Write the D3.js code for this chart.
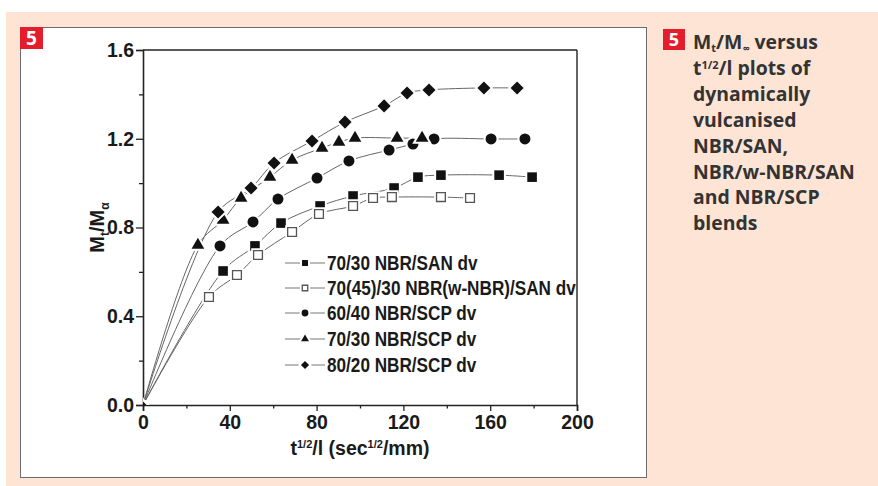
<!DOCTYPE html>
<html><head><meta charset="utf-8">
<script src="https://cdn.jsdelivr.net/npm/d3@7"></script>
<style>body{margin:0;background:#fff}svg{display:block}</style>
</head><body><svg id="c" width="878" height="486"></svg>
<script>
// ---------- data ----------
const seriesNames = ["70/30 NBR/SAN dv", "70(45)/30 NBR(w-NBR)/SAN dv", "60/40 NBR/SCP dv", "70/30 NBR/SCP dv", "80/20 NBR/SCP dv"];
const seriesSymbols = ["square", "openSquare", "circle", "triangle", "diamond"];
const xSAN7030 = [0, 36.9, 51.6, 63.6, 81.6, 96.8, 115.7, 126.7, 137.3, 164.1, 179.3];
const ySAN7030 = [0, 0.604, 0.717, 0.820, 0.897, 0.942, 0.978, 1.027, 1.036, 1.036, 1.027];
const xWNBR = [0, 30.4, 43.3, 53.0, 68.7, 81.1, 96.8, 106.0, 114.7, 137.3, 150.7];
const yWNBR = [0, 0.487, 0.586, 0.676, 0.780, 0.861, 0.897, 0.933, 0.937, 0.937, 0.933];
const xSCP6040 = [0, 35.5, 50.7, 62.2, 80.2, 94.9, 113.4, 124.4, 134.1, 160.4, 176.0];
const ySCP6040 = [0, 0.717, 0.825, 0.928, 1.023, 1.100, 1.149, 1.176, 1.199, 1.199, 1.199];
const xSCP7030 = [0, 25.3, 36.9, 45.2, 58.5, 68.7, 82.5, 90.3, 97.7, 117.1, 128.6];
const ySCP7030 = [0, 0.721, 0.834, 0.933, 1.027, 1.104, 1.158, 1.185, 1.203, 1.203, 1.203];
const xSCP8020 = [0, 34.6, 49.8, 60.4, 77.9, 93.1, 111.1, 121.7, 131.8, 157.1, 172.4];
const ySCP8020 = [0, 0.870, 0.978, 1.091, 1.190, 1.275, 1.348, 1.406, 1.420, 1.429, 1.429];
const xTicks = [0, 40, 80, 120, 160, 200];
const yTicks = [0.0, 0.4, 0.8, 1.2, 1.6];
const captionLines = ["versus", "t", "dynamically", "vulcanised", "NBR/SAN,", "NBR/w-NBR/SAN", "and NBR/SCP", "blends"];

const seriesX = [xSAN7030, xWNBR, xSCP6040, xSCP7030, xSCP8020];
const seriesY = [ySAN7030, yWNBR, ySCP6040, ySCP7030, ySCP8020];

// ---------- layout ----------
const svg = d3.select("#c");
const W = 878, H = 486;
svg.append("rect").attr("x", 6).attr("y", 12).attr("width", W - 6).attr("height", H - 12).attr("fill", "#fde4d4");
svg.append("rect").attr("x", 20.5).attr("y", 27.5).attr("width", 626).attr("height", 450).attr("fill", "#fff").attr("stroke", "#6d6d6d").attr("stroke-width", 1);
svg.append("rect").attr("x", 20).attr("y", 27).attr("width", 23).attr("height", 22).attr("fill", "#e41d2d");
svg.append("text").attr("x", 31.5).attr("y", 45).attr("text-anchor", "middle").attr("fill", "#fff")
  .attr("font-family", "'Open Sans', sans-serif").attr("font-weight", 700).attr("font-size", 19).text("5");

const x = d3.scaleLinear().domain([0, 200]).range([143, 577]);
const y = d3.scaleLinear().domain([0, 1.6]).range([405, 50]);
const font = "'Liberation Sans', Arial, sans-serif";

// frame
svg.append("line").attr("x1", x(0)).attr("x2", x(200)).attr("y1", y(1.6)).attr("y2", y(1.6)).attr("stroke", "#222").attr("stroke-width", 1.4);
svg.append("line").attr("x1", x(200)).attr("x2", x(200)).attr("y1", y(1.6)).attr("y2", y(0)).attr("stroke", "#222").attr("stroke-width", 1.4);

// axes
const xAxis = d3.axisBottom(x).tickValues(xTicks).tickSize(6).tickPadding(4).tickFormat(d3.format("d"));
const xMinor = d3.axisBottom(x).tickValues(d3.range(20, 200, 40)).tickSize(3.5).tickFormat("");
const yAxis = d3.axisLeft(y).tickValues(yTicks).tickSize(7).tickPadding(2).tickFormat(d3.format(".1f"));
const yMinor = d3.axisLeft(y).tickValues(d3.range(0.2, 1.6, 0.4)).tickSize(4).tickFormat("");

function styleAxis(g) {
  g.select(".domain").attr("stroke", "#222").attr("stroke-width", 1.6);
  g.selectAll(".tick line").attr("stroke", "#222").attr("stroke-width", 1.3);
  g.selectAll("text").attr("font-family", font).attr("font-weight", 700).attr("font-size", 19.5).attr("fill", "#1a1a1a");
}
svg.append("g").attr("transform", `translate(0,${y(0)})`).call(xMinor).call(styleAxis).select(".domain").remove();
svg.append("g").attr("transform", `translate(${x(0)},0)`).call(yMinor).call(styleAxis).select(".domain").remove();
svg.append("g").attr("transform", `translate(0,${y(0)})`).call(xAxis).call(styleAxis);
svg.append("g").attr("transform", `translate(${x(0)},0)`).call(yAxis).call(styleAxis);

// axis titles
const xt = svg.append("text").attr("x", (x(0) + x(200)) / 2).attr("y", 455).attr("text-anchor", "middle")
  .attr("font-family", font).attr("font-weight", 700).attr("font-size", 19.5).attr("fill", "#1a1a1a");
xt.append("tspan").text("t");
xt.append("tspan").attr("dy", -7).attr("font-size", 11).text("1/2");
xt.append("tspan").attr("dy", 7).text("/l (sec");
xt.append("tspan").attr("dy", -7).attr("font-size", 11).text("1/2");
xt.append("tspan").attr("dy", 7).text("/mm)");

const yt = svg.append("text").attr("transform", `translate(104,${(y(0) + y(1.6)) / 2}) rotate(-90)`).attr("text-anchor", "middle")
  .attr("font-family", font).attr("font-weight", 700).attr("font-size", 20).attr("fill", "#1a1a1a");
yt.append("tspan").text("M");
yt.append("tspan").attr("dy", 5).attr("font-size", 12).text("t");
yt.append("tspan").attr("dy", -5).text("/M");
yt.append("tspan").attr("dy", 5).attr("font-size", 12).text("α");

// clip
svg.append("clipPath").attr("id", "pc").append("rect").attr("x", x(0)).attr("y", y(1.6)).attr("width", x(200) - x(0)).attr("height", y(0) - y(1.6));
const plot = svg.append("g").attr("clip-path", "url(#pc)");

const line = d3.line().x(d => x(d[0])).y(d => y(d[1])).curve(d3.curveCatmullRom.alpha(0.5));

function symbolPath(kind, scale) {
  const s = scale || 1;
  if (kind === "square" || kind === "openSquare") return d3.symbol(d3.symbolSquare, 92 * s * s)();
  if (kind === "circle") return d3.symbol(d3.symbolCircle, 95 * s * s)();
  if (kind === "triangle") return d3.symbol(d3.symbolTriangle, 70 * s * s)();
  if (kind === "diamond") return d3.symbol(d3.symbolSquare, 86 * s * s)();
}
function drawMarker(g, kind, cx, cy, scale) {
  const rot = kind === "diamond" ? " rotate(45)" : "";
  const tr = `translate(${cx},${cy})${rot}`;
  g.append("path").attr("d", symbolPath(kind, scale)).attr("transform", tr)
    .attr("fill", kind === "openSquare" ? "#fff" : "#111")
    .attr("stroke", "#fff").attr("stroke-width", 4).attr("paint-order", "stroke");
  if (kind === "openSquare") {
    g.append("path").attr("d", symbolPath(kind, scale * 0.92)).attr("transform", tr)
      .attr("fill", "#fff").attr("stroke", "#555").attr("stroke-width", 1.3);
  }
}

seriesNames.forEach((name, i) => {
  const pts = seriesX[i].map((v, j) => [v, seriesY[i][j]]);
  plot.append("path").datum(pts).attr("d", line).attr("fill", "none").attr("stroke", "#666").attr("stroke-width", 1);
});
seriesNames.forEach((name, i) => {
  const g = plot.append("g");
  seriesX[i].forEach((v, j) => drawMarker(g, seriesSymbols[i], x(v), y(seriesY[i][j]), j === 0 ? 0.55 : 1));
});

// legend
const legendY = [263, 288, 313, 339, 365];
seriesNames.forEach((name, i) => {
  const g = svg.append("g");
  const ly = legendY[i];
  g.append("line").attr("x1", 285).attr("x2", 325).attr("y1", ly).attr("y2", ly).attr("stroke", "#777").attr("stroke-width", 1);
  drawMarker(g, seriesSymbols[i], 305, ly, 0.62);
  g.append("text").attr("transform", `translate(327,${ly + 7}) scale(0.88,1)`)
    .attr("font-family", font).attr("font-weight", 700).attr("font-size", 19.5).attr("fill", "#1a1a1a").text(name);
});

// caption
svg.append("rect").attr("x", 663).attr("y", 29).attr("width", 22).attr("height", 21).attr("fill", "#e41d2d");
svg.append("text").attr("x", 674).attr("y", 46).attr("text-anchor", "middle").attr("fill", "#fff")
  .attr("font-family", "'Open Sans', sans-serif").attr("font-weight", 700).attr("font-size", 18).text("5");
const capFont = "'Open Sans', 'Noto Sans', sans-serif";
const capX = 693, capY0 = 49, capDy = 25.9;
const cap = svg.append("g").attr("font-family", capFont).attr("font-weight", 700).attr("font-size", 19.4).attr("fill", "#333");
const c1 = cap.append("text").attr("x", capX).attr("y", capY0);
c1.append("tspan").text("M");
c1.append("tspan").attr("dy", 3).attr("font-size", 11).text("t");
c1.append("tspan").attr("dy", -3).text("/M");
c1.append("tspan").attr("dy", 3).attr("font-size", 10).text("∞");
c1.append("tspan").attr("dy", -3).text(" " + captionLines[0]);
const c2 = cap.append("text").attr("x", capX).attr("y", capY0 + capDy);
c2.append("tspan").text(captionLines[1]);
c2.append("tspan").attr("dy", -6).attr("font-size", 11).text("1/2");
c2.append("tspan").attr("dy", 6).text("/l plots of");
captionLines.slice(2).forEach((t, k) => {
  cap.append("text").attr("x", capX).attr("y", capY0 + capDy * (k + 2)).text(t);
});
</script></body></html>
